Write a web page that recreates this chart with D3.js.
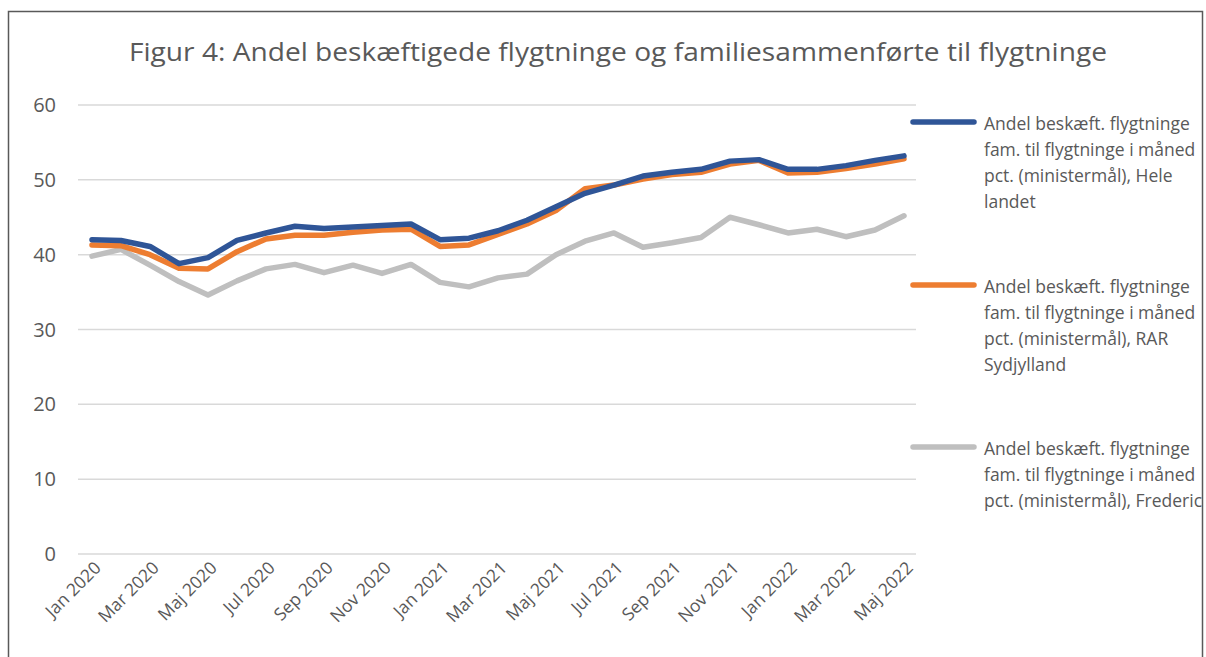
<!DOCTYPE html>
<html>
<head>
<meta charset="utf-8">
<script src="https://cdn.jsdelivr.net/npm/d3@7"></script>
<style>
  body { margin: 0; background: #fff; }
  svg { display: block; font-family: 'Open Sans', sans-serif; }
</style>
</head>
<body>
<script>
const width = 1206, height = 657

const months = ['Jan 2020', 'Feb 2020', 'Mar 2020', 'Apr 2020', 'Maj 2020', 'Jun 2020', 'Jul 2020', 'Aug 2020',
  'Sep 2020', 'Okt 2020', 'Nov 2020', 'Dec 2020', 'Jan 2021', 'Feb 2021', 'Mar 2021', 'Apr 2021', 'Maj 2021',
  'Jun 2021', 'Jul 2021', 'Aug 2021', 'Sep 2021', 'Okt 2021', 'Nov 2021', 'Dec 2021', 'Jan 2022', 'Feb 2022',
  'Mar 2022', 'Apr 2022', 'Maj 2022']

const heleLandet = [42.0, 41.9, 41.1, 38.8, 39.6, 41.9, 42.9, 43.8, 43.5, 43.7, 43.9, 44.1, 42.0, 42.2,
  43.2, 44.6, 46.4, 48.2, 49.3, 50.5, 51.0, 51.4, 52.5, 52.7, 51.4, 51.4, 51.9, 52.6, 53.2]
const rarSydjylland = [41.3, 41.2, 40.0, 38.2, 38.1, 40.4, 42.1, 42.6, 42.6, 43.0, 43.3, 43.4, 41.1, 41.3,
  42.7, 44.1, 45.9, 48.8, 49.3, 50.1, 50.7, 51.0, 52.1, 52.6, 50.9, 51.0, 51.5, 52.1, 52.8]
const fredericia = [39.8, 40.7, 38.6, 36.4, 34.6, 36.5, 38.1, 38.7, 37.6, 38.6, 37.5, 38.7, 36.3, 35.7,
  36.9, 37.4, 40.0, 41.8, 42.9, 41.0, 41.6, 42.3, 45.0, 44.0, 42.9, 43.4, 42.4, 43.3, 45.2]

const yTicks = [0, 10, 20, 30, 40, 50, 60]

// legend text as it shows inside the chart frame (the rest is cut by the frame)
const seriesNames = [
  ['Andel beskæft. flygtninge', 'fam. til flygtninge i måned', 'pct. (ministermål), Hele', 'landet'],
  ['Andel beskæft. flygtninge', 'fam. til flygtninge i måned', 'pct. (ministermål), RAR', 'Sydjylland'],
  ['Andel beskæft. flygtninge', 'fam. til flygtninge i måned', 'pct. (ministermål), Fredericia']
]
const colors = ['#2f5597', '#ed7d31', '#bfbfbf']
const seriesData = [heleLandet, rarSydjylland, fredericia]

const svg = d3.select('body').append('svg')
  .attr('width', width)
  .attr('height', height)

// frame
svg.append('rect')
  .attr('x', 8.5).attr('y', 11.5)
  .attr('width', 1194).attr('height', 660)
  .attr('fill', 'none')
  .attr('stroke', '#595959')
  .attr('stroke-width', 1.5)

svg.append('clipPath').attr('id', 'frame')
  .append('rect').attr('x', 9).attr('y', 12).attr('width', 1193).attr('height', 660)

svg.append('text')
  .attr('x', 618).attr('y', 61)
  .attr('text-anchor', 'middle')
  .attr('font-size', 25)
  .attr('textLength', 978)
  .attr('lengthAdjust', 'spacingAndGlyphs')
  .attr('fill', '#595959')
  .text('Figur 4: Andel beskæftigede flygtninge og familiesammenførte til flygtninge')

const x = d3.scalePoint().domain(months).range([92, 904])
const y = d3.scaleLinear().domain([0, 60]).range([554, 105])

// grid
svg.append('g')
  .selectAll('line').data(yTicks).enter()
  .append('line')
  .attr('x1', 78).attr('x2', 916)
  .attr('y1', d => y(d)).attr('y2', d => y(d))
  .attr('stroke', '#d9d9d9')
  .attr('stroke-width', 1.5)

svg.append('g')
  .attr('fill', '#595959')
  .attr('font-size', 20)
  .attr('text-anchor', 'end')
  .selectAll('text').data(yTicks).enter()
  .append('text')
  .attr('x', 56)
  .attr('y', d => y(d) + 7)
  .text(d => d)

// x labels, every second month
svg.append('g')
  .attr('fill', '#595959')
  .attr('font-size', 17.5)
  .attr('text-anchor', 'end')
  .selectAll('text').data(months.filter((d, i) => i % 2 === 0)).enter()
  .append('text')
  .attr('transform', d => `translate(${x(d) + 10},${569}) rotate(-45)`)
  .text(d => d)

const line = d3.line()
  .x((d, i) => x(months[i]))
  .y(d => y(d))

// grey first so coloured lines sit on top
const order = [2, 1, 0]
svg.append('g')
  .selectAll('path').data(order).enter()
  .append('path')
  .attr('d', i => line(seriesData[i]))
  .attr('fill', 'none')
  .attr('stroke', i => colors[i])
  .attr('stroke-width', 5.5)
  .attr('stroke-linejoin', 'round')
  .attr('stroke-linecap', 'round')

// legend
const legendY = [122, 285, 447]
const legend = svg.append('g').attr('clip-path', 'url(#frame)')
  .selectAll('g').data(seriesNames).enter()
  .append('g')
  .attr('transform', (d, i) => `translate(0,${legendY[i]})`)

legend.append('line')
  .attr('x1', 913).attr('x2', 974)
  .attr('stroke', (d, i) => colors[i])
  .attr('stroke-width', 5.5)
  .attr('stroke-linecap', 'round')

legend.append('g')
  .attr('fill', '#595959')
  .attr('font-size', 17.5)
  .selectAll('text').data(d => d).enter()
  .append('text')
  .attr('x', 984)
  .attr('y', (d, i) => 8 + i * 26)
  .text(d => d)
</script>
</body>
</html>
